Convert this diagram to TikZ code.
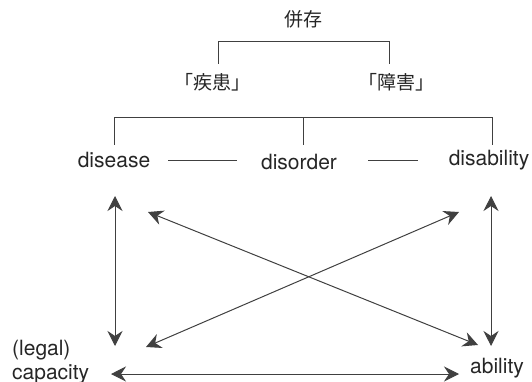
\documentclass[tikz,border=0pt]{standalone}
\usepackage{fontspec}
\setmainfont{TeX Gyre Heros}
\newfontfamily\jpfont{Noto Sans CJK JP}
\usetikzlibrary{arrows.meta}
\tikzset{
  lbl/.style={inner sep=0pt, font=\fontsize{21}{24}\selectfont, text=black!85},
  jp/.style={inner sep=0pt, font=\jpfont\fontsize{19}{22}\selectfont, text=black!85},
  ln/.style={draw=black!75, line width=1pt},
  arr/.style={ln, {Stealth[length=15pt,width=15pt,inset=5pt]}-{Stealth[length=15pt,width=15pt,inset=5pt]}},
}
\begin{document}
\begin{tikzpicture}[x=1pt,y=-1pt]
\useasboundingbox (0,0) rectangle (532,382);
% top
\node[jp] (top) at (303,19) {併存};
\node[jp] (k1) at (212,82) {「疾患」};
\node[jp] (k2) at (396,82) {「障害」};
\coordinate (b1l) at (218,64);
\coordinate (b1r) at (389,64);
\draw[ln] (b1l) -- (218,42) -- (389,42) -- (b1r);
% second bracket
\coordinate (b2l) at (114,145);
\coordinate (b2m) at (303,145);
\coordinate (b2r) at (492,145);
\draw[ln] (b2l) -- (114,118) -- (492,118) -- (b2r);
\draw[ln] (303,118) -- (b2m);
% labels
\node[lbl] (dis) at (114,160) {disease};
\node[lbl] (dord) at (299,162) {disorder};
\node[lbl] (dab) at (489,160) {disability};
\node[lbl, align=left, anchor=west] (cap) at (12,362) {(legal)\\capacity};
\node[lbl, anchor=west] (abl) at (470,368) {ability};
% dashes between
\coordinate (d1a) at (168,161);
\coordinate (d1b) at (237,161);
\coordinate (d2a) at (368,161);
\coordinate (d2b) at (418,161);
\draw[ln] (d1a) -- (d1b);
\draw[ln] (d2a) -- (d2b);
% arrows
\coordinate (lt) at (115,196);
\coordinate (lb) at (115,346);
\coordinate (rt) at (491,196);
\coordinate (rb) at (491,346);
\coordinate (dlt) at (148,212);
\coordinate (drb) at (478,345);
\coordinate (drt) at (459,212);
\coordinate (dlb) at (146,347);
\coordinate (hl) at (111,374);
\coordinate (hr) at (459,374);
\draw[arr] (lt) -- (lb);
\draw[arr] (rt) -- (rb);
\draw[arr] (dlt) -- (drb);
\draw[arr] (drt) -- (dlb);
\draw[arr] (hl) -- (hr);
\end{tikzpicture}
\end{document}
